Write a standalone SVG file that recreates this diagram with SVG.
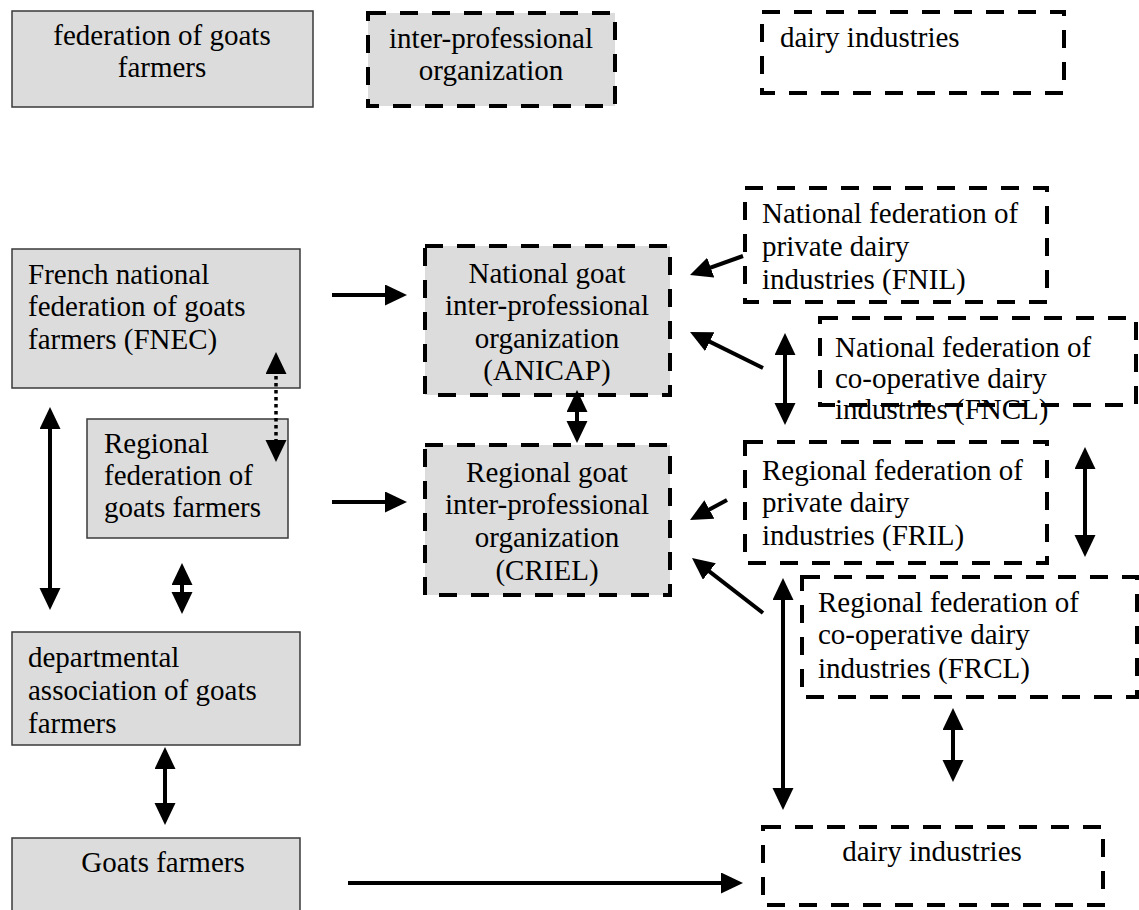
<svg xmlns="http://www.w3.org/2000/svg" width="1139" height="910" viewBox="0 0 1139 910">
<style>
  .solid { fill: #dcdcdc; stroke: #3a3a3a; stroke-width: 1.5; }
  .dgray { fill: #dcdcdc; stroke: #000; stroke-width: 4; stroke-dasharray: 18 14; }
  .dwhite { fill: #fff; stroke: #000; stroke-width: 4; stroke-dasharray: 18 14; }
  text { font-family: "Liberation Serif", "Times New Roman", serif; font-size: 29px; fill: #000; }
  .c { text-anchor: middle; }
  .a { fill: none; stroke: #000; stroke-width: 4; }
  .dot { fill: none; stroke: #000; stroke-width: 3.5; stroke-dasharray: 3.5 3.5; }
</style>
<defs>
  <marker id="ah" markerUnits="userSpaceOnUse" markerWidth="24" markerHeight="22" refX="12" refY="10.5" orient="auto-start-reverse">
    <path d="M0,0 L22,10.5 L0,21 z" fill="#000"/>
  </marker>
</defs>
<rect width="1139" height="910" fill="#fff"/>

<g id="legend-federation">
  <rect class="solid" x="12" y="11" width="301" height="96"/>
  <text class="c" x="162" y="45">federation of goats</text>
  <text class="c" x="162" y="77">farmers</text>
</g>
<g id="legend-interprof">
  <rect class="dgray" x="368" y="13" width="247" height="93"/>
  <text class="c" x="491" y="48">inter-professional</text>
  <text class="c" x="491" y="80">organization</text>
</g>
<g id="legend-dairy">
  <rect class="dwhite" x="762" y="12" width="302" height="81"/>
  <text x="780" y="47">dairy industries</text>
</g>

<g id="fnec">
  <rect class="solid" x="12" y="249" width="288" height="139"/>
  <text x="28" y="284">French national</text>
  <text x="28" y="316">federation of goats</text>
  <text x="28" y="349">farmers (FNEC)</text>
</g>
<g id="regional-fed">
  <rect class="solid" x="87" y="419" width="201" height="119"/>
  <text x="104" y="453">Regional</text>
  <text x="104" y="485">federation of</text>
  <text x="104" y="517">goats farmers</text>
</g>
<g id="departmental">
  <rect class="solid" x="12" y="632" width="288" height="113"/>
  <text x="28" y="667">departmental</text>
  <text x="28" y="700">association of goats</text>
  <text x="28" y="733">farmers</text>
</g>
<g id="goats-farmers">
  <rect class="solid" x="12" y="838" width="288" height="80"/>
  <text class="c" x="163" y="872">Goats farmers</text>
</g>

<g id="anicap">
  <rect class="dgray" x="425" y="246" width="245" height="149"/>
  <text class="c" x="547" y="283">National goat</text>
  <text class="c" x="547" y="315">inter-professional</text>
  <text class="c" x="547" y="348">organization</text>
  <text class="c" x="547" y="380">(ANICAP)</text>
</g>
<g id="criel">
  <rect class="dgray" x="425" y="445" width="245" height="150"/>
  <text class="c" x="547" y="482">Regional goat</text>
  <text class="c" x="547" y="514">inter-professional</text>
  <text class="c" x="547" y="547">organization</text>
  <text class="c" x="547" y="580">(CRIEL)</text>
</g>

<g id="fnil">
  <rect class="dwhite" x="745" y="188" width="302" height="114"/>
  <text x="762" y="223">National federation of</text>
  <text x="762" y="256">private dairy</text>
  <text x="762" y="289">industries (FNIL)</text>
</g>
<g id="fncl">
  <rect class="dwhite" x="820" y="318" width="316" height="87"/>
  <text x="835" y="357">National federation of</text>
  <text x="835" y="388">co-operative dairy</text>
  <text x="835" y="419">industries (FNCL)</text>
</g>
<g id="fril">
  <rect class="dwhite" x="745" y="442" width="302" height="121"/>
  <text x="762" y="480">Regional federation of</text>
  <text x="762" y="512">private dairy</text>
  <text x="762" y="545">industries (FRIL)</text>
</g>
<g id="frcl">
  <rect class="dwhite" x="802" y="577" width="335" height="120"/>
  <text x="818" y="612">Regional federation of</text>
  <text x="818" y="644">co-operative dairy</text>
  <text x="818" y="678">industries (FRCL)</text>
</g>
<g id="dairy">
  <rect class="dwhite" x="763" y="827" width="340" height="78"/>
  <text class="c" x="932" y="861">dairy industries</text>
</g>

<g id="connectors">
  <path class="a" d="M332,295 L397,295" marker-end="url(#ah)"/>
  <path class="a" d="M332,502 L397,502" marker-end="url(#ah)"/>
  <path class="a" d="M577,400 L577,433" marker-start="url(#ah)" marker-end="url(#ah)"/>
  <path class="dot" d="M276,362 L276,452" marker-start="url(#ah)" marker-end="url(#ah)"/>
  <path class="a" d="M50,417 L50,600" marker-start="url(#ah)" marker-end="url(#ah)"/>
  <path class="a" d="M182,573 L182,604" marker-start="url(#ah)" marker-end="url(#ah)"/>
  <path class="a" d="M165,757 L165,815" marker-start="url(#ah)" marker-end="url(#ah)"/>
  <path class="a" d="M348,883 L733,883" marker-end="url(#ah)"/>
  <path class="a" d="M743,256 L699.4,271.6" marker-end="url(#ah)"/>
  <path class="a" d="M763,368 L699,336.4" marker-end="url(#ah)"/>
  <path class="a" d="M727,500 L698.8,515.2" marker-end="url(#ah)"/>
  <path class="a" d="M763,613 L699.9,564.1" marker-end="url(#ah)"/>
  <path class="a" d="M785,343 L785,415" marker-start="url(#ah)" marker-end="url(#ah)"/>
  <path class="a" d="M1085,457 L1085,547" marker-start="url(#ah)" marker-end="url(#ah)"/>
  <path class="a" d="M783,588 L783,800" marker-start="url(#ah)" marker-end="url(#ah)"/>
  <path class="a" d="M953,718 L953,772" marker-start="url(#ah)" marker-end="url(#ah)"/>
</g>
</svg>
